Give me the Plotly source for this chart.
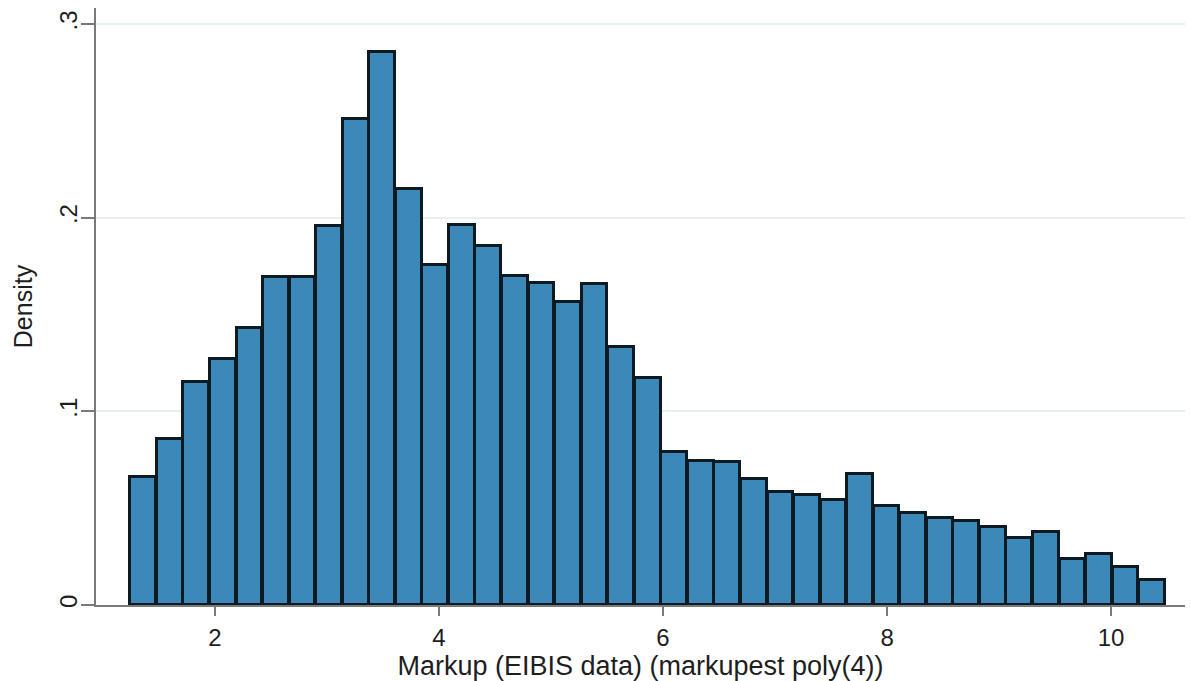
import numpy as np
import plotly.graph_objects as go

# Histogram data (density per bin)
bin_start = 1.241
bin_width = 0.237
density = [
    0.0663, 0.0857, 0.1150, 0.1270, 0.1432, 0.1696, 0.1696, 0.1958, 0.2509, 0.2854,
    0.2147, 0.1756, 0.1963, 0.1854, 0.1699, 0.1662, 0.1567, 0.1658, 0.1334, 0.1171,
    0.0792, 0.0745, 0.0739, 0.0652, 0.0583, 0.0570, 0.0540, 0.0675, 0.0511, 0.0474,
    0.0451, 0.0434, 0.0401, 0.0344, 0.0379, 0.0236, 0.0262, 0.0195, 0.0129,
]
x_tickvals = [2, 4, 6, 8, 10]
y_tickvals = [0, 0.1, 0.2, 0.3]
y_ticktext = ["0", ".1", ".2", ".3"]
x_title = "Markup (EIBIS data) (markupest poly(4))"
y_title = "Density"

centers = bin_start + bin_width * (np.arange(len(density)) + 0.5)

FONT = "Liberation Sans, Arial, sans-serif"
TXT = "#1e1e1e"
AX = "#7a7a7a"

fig = go.Figure(
    go.Bar(
        x=centers,
        y=density,
        width=bin_width * 0.97,
        marker=dict(color="#3c88b8", line=dict(color="#0e1a21", width=3)),
        hoverinfo="x+y",
    )
)

fig.update_layout(
    width=1191,
    height=681,
    margin=dict(l=96, r=6, t=8, b=76),
    paper_bgcolor="white",
    plot_bgcolor="white",
    showlegend=False,
    bargap=0,
    font=dict(family=FONT, color=TXT),
)

fig.update_xaxes(
    range=[0.9375, 10.66],
    tickvals=x_tickvals,
    ticks="outside",
    ticklen=9,
    tickwidth=2,
    tickcolor=AX,
    showline=True,
    linecolor=AX,
    linewidth=2,
    showgrid=False,
    zeroline=False,
    tickfont=dict(size=24, family=FONT, color=TXT),
    ticklabelstandoff=1,
    title=dict(text=x_title, font=dict(size=27, family=FONT, color=TXT), standoff=0),
)

fig.update_yaxes(
    range=[0, 0.3083],
    tickvals=y_tickvals,
    ticktext=y_ticktext,
    tickangle=-90,
    ticks="outside",
    ticklen=13,
    tickwidth=2,
    tickcolor=AX,
    showline=True,
    linecolor=AX,
    linewidth=2,
    showgrid=True,
    gridcolor="#e6eff1",
    gridwidth=1.5,
    zeroline=False,
    tickfont=dict(size=24, family=FONT, color=TXT),
    ticklabelstandoff=-6,
    title=dict(text=y_title, font=dict(size=25, family=FONT, color=TXT), standoff=16),
)

fig.write_html("out.html")
